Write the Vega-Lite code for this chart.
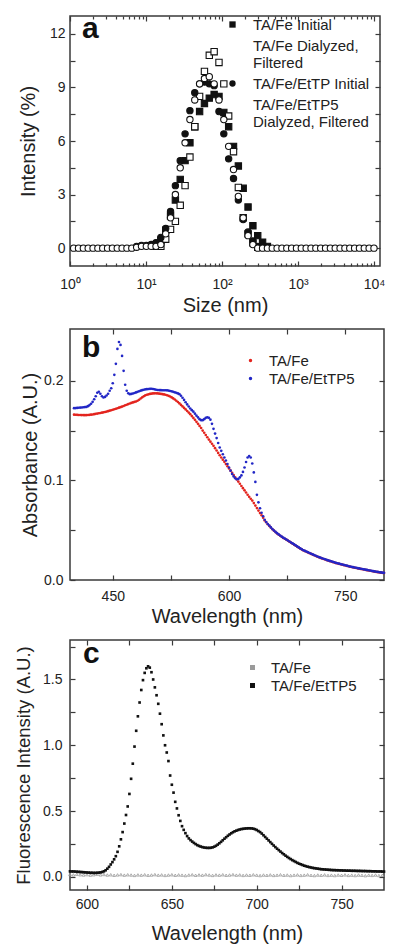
{
"$schema": "https://vega.github.io/schema/vega-lite/v6.json",
"background": "white",
"padding": {"left": 13, "top": 13, "right": 0, "bottom": 0},
"config": {
  "font": "Liberation Sans",
  "view": {"stroke": "#3a3a3a", "strokeWidth": 1.5},
  "axis": {"grid": false, "domain": false, "labelFont": "Liberation Sans", "labelFontSize": 14, "labelColor": "#222", "titleFont": "Liberation Sans", "titleFontSize": 20, "titleFontWeight": "normal", "titleColor": "#222", "tickColor": "#3a3a3a", "tickWidth": 1.2, "tickSize": -5, "labelFlush": false, "labelOverlap": false, "labelBound": false},
  "legend": {"labelFont": "Liberation Sans", "labelFontSize": 15, "labelColor": "#222", "padding": 0},
  "title": {"font": "Liberation Sans", "fontSize": 30, "fontWeight": "bold", "color": "#111", "anchor": "start", "frame": "group", "baseline": "alphabetic"}
},
"columns": 1,
"align": "none",
"spacing": 11,
"resolve": {"scale": {"color": "independent"}, "legend": {"color": "independent"}},
"concat": [
{
  "width": 310, "height": 250,
  "title": {"text": "a", "offset": -29, "dx": 12},
  "data": {"values": [
    {"s":"TA/Fe Initial","d":13.54,"v":0.1},{"s":"TA/Fe Initial","d":15.69,"v":0.45},{"s":"TA/Fe Initial","d":18.17,"v":1.0},{"s":"TA/Fe Initial","d":21.04,"v":1.8},{"s":"TA/Fe Initial","d":24.36,"v":2.7},{"s":"TA/Fe Initial","d":28.21,"v":3.85},{"s":"TA/Fe Initial","d":32.67,"v":4.9},{"s":"TA/Fe Initial","d":37.84,"v":5.9},{"s":"TA/Fe Initial","d":43.82,"v":6.8},{"s":"TA/Fe Initial","d":50.75,"v":7.65},{"s":"TA/Fe Initial","d":58.77,"v":8.1},{"s":"TA/Fe Initial","d":68.06,"v":8.4},{"s":"TA/Fe Initial","d":78.82,"v":8.6},{"s":"TA/Fe Initial","d":91.28,"v":8.5},{"s":"TA/Fe Initial","d":105.7,"v":7.6},{"s":"TA/Fe Initial","d":122.4,"v":6.8},{"s":"TA/Fe Initial","d":141.8,"v":5.7},{"s":"TA/Fe Initial","d":164.2,"v":4.6},{"s":"TA/Fe Initial","d":190.1,"v":3.35},{"s":"TA/Fe Initial","d":220.2,"v":2.3},{"s":"TA/Fe Initial","d":255.0,"v":1.25},{"s":"TA/Fe Initial","d":295.3,"v":0.7},{"s":"TA/Fe Initial","d":342.0,"v":0.33},{"s":"TA/Fe Initial","d":396.1,"v":0.1},
    {"s":"TA/Fe Dialyzed, Filtered","d":15.69,"v":0.1},{"s":"TA/Fe Dialyzed, Filtered","d":18.17,"v":0.5},{"s":"TA/Fe Dialyzed, Filtered","d":21.04,"v":1.05},{"s":"TA/Fe Dialyzed, Filtered","d":24.36,"v":1.5},{"s":"TA/Fe Dialyzed, Filtered","d":28.21,"v":2.4},{"s":"TA/Fe Dialyzed, Filtered","d":32.67,"v":3.5},{"s":"TA/Fe Dialyzed, Filtered","d":37.84,"v":5.1},{"s":"TA/Fe Dialyzed, Filtered","d":43.82,"v":6.8},{"s":"TA/Fe Dialyzed, Filtered","d":50.75,"v":8.5},{"s":"TA/Fe Dialyzed, Filtered","d":58.77,"v":9.9},{"s":"TA/Fe Dialyzed, Filtered","d":68.06,"v":10.8},{"s":"TA/Fe Dialyzed, Filtered","d":78.82,"v":11.0},{"s":"TA/Fe Dialyzed, Filtered","d":91.28,"v":10.4},{"s":"TA/Fe Dialyzed, Filtered","d":105.7,"v":9.2},{"s":"TA/Fe Dialyzed, Filtered","d":122.4,"v":7.4},{"s":"TA/Fe Dialyzed, Filtered","d":141.8,"v":5.4},{"s":"TA/Fe Dialyzed, Filtered","d":164.2,"v":3.4},{"s":"TA/Fe Dialyzed, Filtered","d":190.1,"v":1.7},{"s":"TA/Fe Dialyzed, Filtered","d":220.2,"v":0.8},{"s":"TA/Fe Dialyzed, Filtered","d":255.0,"v":0.3},{"s":"TA/Fe Dialyzed, Filtered","d":295.3,"v":0.05},
    {"s":"TA/Fe/EtTP Initial","d":7.531,"v":0.1},{"s":"TA/Fe/EtTP Initial","d":8.721,"v":0.15},{"s":"TA/Fe/EtTP Initial","d":10.10,"v":0.15},{"s":"TA/Fe/EtTP Initial","d":11.70,"v":0.2},{"s":"TA/Fe/EtTP Initial","d":13.54,"v":0.3},{"s":"TA/Fe/EtTP Initial","d":15.69,"v":0.6},{"s":"TA/Fe/EtTP Initial","d":18.17,"v":1.1},{"s":"TA/Fe/EtTP Initial","d":21.04,"v":2.05},{"s":"TA/Fe/EtTP Initial","d":24.36,"v":3.5},{"s":"TA/Fe/EtTP Initial","d":28.21,"v":4.9},{"s":"TA/Fe/EtTP Initial","d":32.67,"v":6.4},{"s":"TA/Fe/EtTP Initial","d":37.84,"v":7.7},{"s":"TA/Fe/EtTP Initial","d":43.82,"v":8.7},{"s":"TA/Fe/EtTP Initial","d":50.75,"v":9.2},{"s":"TA/Fe/EtTP Initial","d":58.77,"v":9.3},{"s":"TA/Fe/EtTP Initial","d":68.06,"v":9.2},{"s":"TA/Fe/EtTP Initial","d":78.82,"v":9.1},{"s":"TA/Fe/EtTP Initial","d":91.28,"v":7.65},{"s":"TA/Fe/EtTP Initial","d":105.7,"v":6.4},{"s":"TA/Fe/EtTP Initial","d":122.4,"v":5.0},{"s":"TA/Fe/EtTP Initial","d":141.8,"v":3.9},{"s":"TA/Fe/EtTP Initial","d":164.2,"v":2.7},{"s":"TA/Fe/EtTP Initial","d":190.1,"v":1.6},{"s":"TA/Fe/EtTP Initial","d":220.2,"v":0.9},{"s":"TA/Fe/EtTP Initial","d":255.0,"v":0.4},{"s":"TA/Fe/EtTP Initial","d":295.3,"v":0.1},
    {"s":"TA/Fe/EtTP5 Dialyzed, Filtered","d":1.117,"v":0},{"s":"TA/Fe/EtTP5 Dialyzed, Filtered","d":1.294,"v":0},{"s":"TA/Fe/EtTP5 Dialyzed, Filtered","d":1.499,"v":0},{"s":"TA/Fe/EtTP5 Dialyzed, Filtered","d":1.736,"v":0},{"s":"TA/Fe/EtTP5 Dialyzed, Filtered","d":2.010,"v":0},{"s":"TA/Fe/EtTP5 Dialyzed, Filtered","d":2.328,"v":0},{"s":"TA/Fe/EtTP5 Dialyzed, Filtered","d":2.696,"v":0},{"s":"TA/Fe/EtTP5 Dialyzed, Filtered","d":3.122,"v":0},{"s":"TA/Fe/EtTP5 Dialyzed, Filtered","d":3.615,"v":0},{"s":"TA/Fe/EtTP5 Dialyzed, Filtered","d":4.187,"v":0},{"s":"TA/Fe/EtTP5 Dialyzed, Filtered","d":4.849,"v":0},{"s":"TA/Fe/EtTP5 Dialyzed, Filtered","d":5.615,"v":0},{"s":"TA/Fe/EtTP5 Dialyzed, Filtered","d":6.503,"v":0},{"s":"TA/Fe/EtTP5 Dialyzed, Filtered","d":7.531,"v":0.05},{"s":"TA/Fe/EtTP5 Dialyzed, Filtered","d":8.721,"v":0.1},{"s":"TA/Fe/EtTP5 Dialyzed, Filtered","d":10.10,"v":0.1},{"s":"TA/Fe/EtTP5 Dialyzed, Filtered","d":11.70,"v":0.1},{"s":"TA/Fe/EtTP5 Dialyzed, Filtered","d":13.54,"v":0.1},{"s":"TA/Fe/EtTP5 Dialyzed, Filtered","d":15.69,"v":0.2},{"s":"TA/Fe/EtTP5 Dialyzed, Filtered","d":18.17,"v":0.8},{"s":"TA/Fe/EtTP5 Dialyzed, Filtered","d":21.04,"v":1.7},{"s":"TA/Fe/EtTP5 Dialyzed, Filtered","d":24.36,"v":3.0},{"s":"TA/Fe/EtTP5 Dialyzed, Filtered","d":28.21,"v":4.5},{"s":"TA/Fe/EtTP5 Dialyzed, Filtered","d":32.67,"v":5.9},{"s":"TA/Fe/EtTP5 Dialyzed, Filtered","d":37.84,"v":7.2},{"s":"TA/Fe/EtTP5 Dialyzed, Filtered","d":43.82,"v":8.3},{"s":"TA/Fe/EtTP5 Dialyzed, Filtered","d":50.75,"v":9.2},{"s":"TA/Fe/EtTP5 Dialyzed, Filtered","d":58.77,"v":9.5},{"s":"TA/Fe/EtTP5 Dialyzed, Filtered","d":68.06,"v":9.6},{"s":"TA/Fe/EtTP5 Dialyzed, Filtered","d":78.82,"v":9.2},{"s":"TA/Fe/EtTP5 Dialyzed, Filtered","d":91.28,"v":8.3},{"s":"TA/Fe/EtTP5 Dialyzed, Filtered","d":105.7,"v":7.2},{"s":"TA/Fe/EtTP5 Dialyzed, Filtered","d":122.4,"v":5.7},{"s":"TA/Fe/EtTP5 Dialyzed, Filtered","d":141.8,"v":4.4},{"s":"TA/Fe/EtTP5 Dialyzed, Filtered","d":164.2,"v":2.9},{"s":"TA/Fe/EtTP5 Dialyzed, Filtered","d":190.1,"v":1.7},{"s":"TA/Fe/EtTP5 Dialyzed, Filtered","d":220.2,"v":0.7},{"s":"TA/Fe/EtTP5 Dialyzed, Filtered","d":255.0,"v":0.2},{"s":"TA/Fe/EtTP5 Dialyzed, Filtered","d":295.3,"v":0},{"s":"TA/Fe/EtTP5 Dialyzed, Filtered","d":342.0,"v":0},{"s":"TA/Fe/EtTP5 Dialyzed, Filtered","d":396.1,"v":0},{"s":"TA/Fe/EtTP5 Dialyzed, Filtered","d":458.7,"v":0},{"s":"TA/Fe/EtTP5 Dialyzed, Filtered","d":531.2,"v":0},{"s":"TA/Fe/EtTP5 Dialyzed, Filtered","d":615.1,"v":0},{"s":"TA/Fe/EtTP5 Dialyzed, Filtered","d":712.4,"v":0},{"s":"TA/Fe/EtTP5 Dialyzed, Filtered","d":825.0,"v":0},{"s":"TA/Fe/EtTP5 Dialyzed, Filtered","d":955.4,"v":0},{"s":"TA/Fe/EtTP5 Dialyzed, Filtered","d":1106,"v":0},{"s":"TA/Fe/EtTP5 Dialyzed, Filtered","d":1281,"v":0},{"s":"TA/Fe/EtTP5 Dialyzed, Filtered","d":1484,"v":0},{"s":"TA/Fe/EtTP5 Dialyzed, Filtered","d":1718,"v":0},{"s":"TA/Fe/EtTP5 Dialyzed, Filtered","d":1990,"v":0},{"s":"TA/Fe/EtTP5 Dialyzed, Filtered","d":2305,"v":0},{"s":"TA/Fe/EtTP5 Dialyzed, Filtered","d":2669,"v":0},{"s":"TA/Fe/EtTP5 Dialyzed, Filtered","d":3091,"v":0},{"s":"TA/Fe/EtTP5 Dialyzed, Filtered","d":3580,"v":0},{"s":"TA/Fe/EtTP5 Dialyzed, Filtered","d":4145,"v":0},{"s":"TA/Fe/EtTP5 Dialyzed, Filtered","d":4801,"v":0},{"s":"TA/Fe/EtTP5 Dialyzed, Filtered","d":5560,"v":0},{"s":"TA/Fe/EtTP5 Dialyzed, Filtered","d":6439,"v":0},{"s":"TA/Fe/EtTP5 Dialyzed, Filtered","d":7456,"v":0},{"s":"TA/Fe/EtTP5 Dialyzed, Filtered","d":8635,"v":0},{"s":"TA/Fe/EtTP5 Dialyzed, Filtered","d":10000,"v":0}
  ]},
  "layer": [
    {
      "mark": {"type": "point", "filled": true, "stroke": "#111", "strokeWidth": 1.1, "size": 40, "opacity": 1},
      "encoding": {
        "x": {"field": "d", "type": "quantitative", "scale": {"type": "log", "domain": [1, 12000]},
          "axis": {"orient": "bottom", "title": "Size (nm)", "values": [1,2,3,4,5,6,7,8,9,10,20,30,40,50,60,70,80,90,100,200,300,400,500,600,700,800,900,1000,2000,3000,4000,5000,6000,7000,8000,9000,10000],
            "labelExpr": "datum.value == 1 ? '10⁰' : datum.value == 10 ? '10¹' : datum.value == 100 ? '10²' : datum.value == 1000 ? '10³' : datum.value == 10000 ? '10⁴' : ''",
            "tickSize": {"condition": {"test": "datum.value == 1 || datum.value == 10 || datum.value == 100 || datum.value == 1000 || datum.value == 10000", "value": -5}, "value": -3},
            "labelPadding": 16, "titlePadding": 2}},
        "y": {"field": "v", "type": "quantitative", "scale": {"domain": [-1, 13], "nice": false, "zero": false},
          "axis": {"orient": "left", "title": "Intensity (%)", "values": [0,1.5,3,4.5,6,7.5,9,10.5,12], "labelExpr": "datum.value % 3 == 0 ? datum.label : ''", "labelPadding": 10, "titlePadding": 11.4}},
        "fill": {"field": "s", "type": "nominal",
          "scale": {"domain": ["TA/Fe Initial","TA/Fe Dialyzed, Filtered","TA/Fe/EtTP Initial","TA/Fe/EtTP5 Dialyzed, Filtered"], "range": ["#111","#fff","#111","#fff"]},
          "legend": {"title": null, "orient": "none", "legendX": 155, "legendY": 1, "symbolSize": 40, "symbolStrokeColor": "#111", "symbolStrokeWidth": 1.1, "labelOffset": 13, "rowPadding": 5,
            "labelExpr": "datum.label == 'TA/Fe Dialyzed, Filtered' ? ['TA/Fe Dialyzed,', 'Filtered'] : datum.label == 'TA/Fe/EtTP5 Dialyzed, Filtered' ? ['TA/Fe/EtTP5', 'Dialyzed, Filtered'] : datum.label"}},
        "shape": {"field": "s", "type": "nominal",
          "scale": {"domain": ["TA/Fe Initial","TA/Fe Dialyzed, Filtered","TA/Fe/EtTP Initial","TA/Fe/EtTP5 Dialyzed, Filtered"], "range": ["square","square","circle","circle"]},
          "legend": {"title": null, "orient": "none", "legendX": 155, "legendY": 1, "symbolSize": 40, "symbolStrokeColor": "#111", "symbolStrokeWidth": 1.1, "labelOffset": 13, "rowPadding": 5,
            "labelExpr": "datum.label == 'TA/Fe Dialyzed, Filtered' ? ['TA/Fe Dialyzed,', 'Filtered'] : datum.label == 'TA/Fe/EtTP5 Dialyzed, Filtered' ? ['TA/Fe/EtTP5', 'Dialyzed, Filtered'] : datum.label"}}
      }
    },
    {
      "mark": {"type": "point", "opacity": 0},
      "encoding": {
        "x": {"field": "d", "type": "quantitative", "scale": {"type": "log", "domain": [1, 12000]},
          "axis": {"orient": "top", "title": null, "labels": false, "values": [1,2,3,4,5,6,7,8,9,10,20,30,40,50,60,70,80,90,100,200,300,400,500,600,700,800,900,1000,2000,3000,4000,5000,6000,7000,8000,9000,10000],
            "tickSize": {"condition": {"test": "datum.value == 1 || datum.value == 10 || datum.value == 100 || datum.value == 1000 || datum.value == 10000", "value": -5}, "value": -3}}},
        "y": {"field": "v", "type": "quantitative", "scale": {"domain": [-1, 13], "nice": false, "zero": false},
          "axis": {"orient": "right", "title": null, "labels": false, "values": [0,1.5,3,4.5,6,7.5,9,10.5,12]}}
      }
    }
  ],
  "resolve": {"axis": {"x": "independent", "y": "independent"}}
},
{
  "width": 314, "height": 251,
  "title": {"text": "b", "offset": -35, "dx": 12},
  "layer": [
    {
      "data": {"values": [
        {"w":400,"a":0.166},{"w":402,"a":0.1659},{"w":404,"a":0.1658},{"w":406,"a":0.1657},{"w":408,"a":0.1657},{"w":410,"a":0.1656},{"w":412,"a":0.1656},{"w":414,"a":0.1655},{"w":416,"a":0.1656},{"w":418,"a":0.1657},{"w":420,"a":0.1658},{"w":422,"a":0.166},{"w":424,"a":0.1662},{"w":426,"a":0.1665},{"w":428,"a":0.1668},{"w":430,"a":0.1671},{"w":432,"a":0.1674},{"w":434,"a":0.1677},{"w":436,"a":0.168},{"w":438,"a":0.1683},{"w":440,"a":0.1687},{"w":442,"a":0.1691},{"w":444,"a":0.1695},{"w":446,"a":0.17},{"w":448,"a":0.1704},{"w":450,"a":0.1709},{"w":452,"a":0.1714},{"w":454,"a":0.1719},{"w":456,"a":0.1724},{"w":458,"a":0.173},{"w":460,"a":0.1735},{"w":462,"a":0.1741},{"w":464,"a":0.1747},{"w":466,"a":0.1754},{"w":468,"a":0.176},{"w":470,"a":0.1766},{"w":472,"a":0.1772},{"w":474,"a":0.1778},{"w":476,"a":0.1783},{"w":478,"a":0.1788},{"w":480,"a":0.1792},{"w":482,"a":0.18},{"w":484,"a":0.181},{"w":486,"a":0.1822},{"w":488,"a":0.1834},{"w":490,"a":0.1845},{"w":492,"a":0.1854},{"w":494,"a":0.186},{"w":496,"a":0.1864},{"w":498,"a":0.1868},{"w":500,"a":0.1871},{"w":502,"a":0.1873},{"w":504,"a":0.1874},{"w":506,"a":0.1874},{"w":508,"a":0.1873},{"w":510,"a":0.1871},{"w":512,"a":0.1869},{"w":514,"a":0.1866},{"w":516,"a":0.1863},{"w":518,"a":0.186},{"w":520,"a":0.1855},{"w":522,"a":0.1849},{"w":524,"a":0.1842},{"w":526,"a":0.1833},{"w":528,"a":0.1823},{"w":530,"a":0.1812},{"w":532,"a":0.18},{"w":534,"a":0.1787},{"w":536,"a":0.1773},{"w":538,"a":0.1758},{"w":540,"a":0.1743},{"w":542,"a":0.1728},{"w":544,"a":0.1713},{"w":546,"a":0.1697},{"w":548,"a":0.1681},{"w":550,"a":0.1665},{"w":552,"a":0.1646},{"w":554,"a":0.1627},{"w":556,"a":0.1608},{"w":558,"a":0.1588},{"w":560,"a":0.1568},{"w":562,"a":0.1547},{"w":564,"a":0.1526},{"w":566,"a":0.15},{"w":568,"a":0.1478},{"w":570,"a":0.1456},{"w":572,"a":0.1433},{"w":574,"a":0.141},{"w":576,"a":0.1389},{"w":578,"a":0.1368},{"w":580,"a":0.1347},{"w":582,"a":0.1324},{"w":584,"a":0.13},{"w":586,"a":0.1276},{"w":588,"a":0.1252},{"w":590,"a":0.123},{"w":592,"a":0.1208},{"w":594,"a":0.1186},{"w":596,"a":0.1164},{"w":598,"a":0.1142},{"w":600,"a":0.112},{"w":602,"a":0.1098},{"w":604,"a":0.1076},{"w":606,"a":0.1054},{"w":608,"a":0.1032},{"w":610,"a":0.101},{"w":612,"a":0.0988},{"w":614,"a":0.0966},{"w":616,"a":0.0944},{"w":618,"a":0.0922},{"w":620,"a":0.09},{"w":622,"a":0.0878},{"w":624,"a":0.0856},{"w":626,"a":0.0835},{"w":628,"a":0.0816},{"w":630,"a":0.0797},{"w":632,"a":0.0772},{"w":634,"a":0.0747},{"w":636,"a":0.0722},{"w":638,"a":0.0697},{"w":640,"a":0.0672},{"w":642,"a":0.065},{"w":644,"a":0.0626},{"w":646,"a":0.0598},{"w":648,"a":0.058},{"w":650,"a":0.056},{"w":652,"a":0.0543},{"w":654,"a":0.0526},{"w":656,"a":0.051},{"w":658,"a":0.0495},{"w":660,"a":0.0481},{"w":662,"a":0.0468},{"w":664,"a":0.0456},{"w":666,"a":0.0444},{"w":668,"a":0.0433},{"w":670,"a":0.0422},{"w":672,"a":0.0414},{"w":674,"a":0.0405},{"w":676,"a":0.0395},{"w":678,"a":0.0385},{"w":680,"a":0.0375},{"w":682,"a":0.0365},{"w":684,"a":0.0355},{"w":686,"a":0.0345},{"w":688,"a":0.0335},{"w":690,"a":0.0325},{"w":692,"a":0.0315},{"w":694,"a":0.0305},{"w":696,"a":0.0297},{"w":698,"a":0.029},{"w":700,"a":0.0283},{"w":702,"a":0.0276},{"w":704,"a":0.0269},{"w":706,"a":0.0262},{"w":708,"a":0.0255},{"w":710,"a":0.0248},{"w":712,"a":0.0241},{"w":714,"a":0.0234},{"w":716,"a":0.0228},{"w":718,"a":0.0222},{"w":720,"a":0.0216},{"w":722,"a":0.0211},{"w":724,"a":0.0206},{"w":726,"a":0.02},{"w":728,"a":0.0195},{"w":730,"a":0.019},{"w":732,"a":0.0185},{"w":734,"a":0.018},{"w":736,"a":0.0175},{"w":738,"a":0.017},{"w":740,"a":0.0166},{"w":742,"a":0.0162},{"w":744,"a":0.0158},{"w":746,"a":0.0154},{"w":748,"a":0.015},{"w":750,"a":0.0146},{"w":752,"a":0.0142},{"w":754,"a":0.0138},{"w":756,"a":0.0134},{"w":758,"a":0.013},{"w":760,"a":0.0127},{"w":762,"a":0.0124},{"w":764,"a":0.0121},{"w":766,"a":0.0117},{"w":768,"a":0.0114},{"w":770,"a":0.0111},{"w":772,"a":0.0108},{"w":774,"a":0.0105},{"w":776,"a":0.0102},{"w":778,"a":0.0099},{"w":780,"a":0.0096},{"w":782,"a":0.0093},{"w":784,"a":0.009},{"w":786,"a":0.0087},{"w":788,"a":0.0084},{"w":790,"a":0.0081},{"w":792,"a":0.0079},{"w":794,"a":0.0076},{"w":796,"a":0.0074},{"w":798,"a":0.0072},{"w":800,"a":0.007}
      ]},
      "mark": {"type": "circle", "size": 7, "opacity": 1},
      "encoding": {
        "x": {"field": "w", "type": "quantitative", "scale": {"domain": [394.8, 800], "nice": false},
          "axis": {"orient": "bottom", "title": "Wavelength (nm)", "values": [450,525,600,675,750], "labelExpr": "datum.value % 150 == 0 ? datum.label : ''", "labelPadding": 14, "titlePadding": 3}},
        "y": {"field": "a", "type": "quantitative", "scale": {"domain": [0, 0.252], "nice": false},
          "axis": {"orient": "left", "title": "Absorbance (A.U.)", "values": [0,0.05,0.1,0.15,0.2], "labelExpr": "round(datum.value*100) % 10 == 0 ? format(datum.value, '.1f') : ''", "labelPadding": 12, "titlePadding": 3.5}},
        "color": {"datum": "TA/Fe", "type": "nominal", "scale": {"domain": ["TA/Fe","TA/Fe/EtTP5"], "range": ["#e3241e","#2227c6"]},
          "legend": {"title": null, "orient": "none", "legendX": 173, "legendY": 24, "symbolType": "circle", "symbolSize": 12, "labelOffset": 11, "rowPadding": 2}}
      }
    },
    {
      "data": {"values": [
        {"w":400,"a":0.1725},{"w":402,"a":0.1726},{"w":404,"a":0.1728},{"w":406,"a":0.1729},{"w":408,"a":0.1731},{"w":410,"a":0.1732},{"w":412,"a":0.1734},{"w":414,"a":0.1736},{"w":416,"a":0.1738},{"w":418,"a":0.1745},{"w":420,"a":0.1756},{"w":422,"a":0.177},{"w":424,"a":0.1789},{"w":426,"a":0.1815},{"w":428,"a":0.1845},{"w":430,"a":0.188},{"w":432,"a":0.189},{"w":434,"a":0.187},{"w":436,"a":0.1845},{"w":438,"a":0.1832},{"w":440,"a":0.1838},{"w":442,"a":0.1852},{"w":444,"a":0.187},{"w":446,"a":0.19},{"w":448,"a":0.1925},{"w":450,"a":0.1975},{"w":452,"a":0.206},{"w":454,"a":0.217},{"w":456,"a":0.232},{"w":458,"a":0.239},{"w":460,"a":0.236},{"w":462,"a":0.225},{"w":464,"a":0.21},{"w":466,"a":0.196},{"w":468,"a":0.19},{"w":470,"a":0.1875},{"w":472,"a":0.1866},{"w":474,"a":0.1868},{"w":476,"a":0.1872},{"w":478,"a":0.1877},{"w":480,"a":0.1883},{"w":482,"a":0.1889},{"w":484,"a":0.1895},{"w":486,"a":0.1901},{"w":488,"a":0.1906},{"w":490,"a":0.191},{"w":492,"a":0.1914},{"w":494,"a":0.1916},{"w":496,"a":0.1918},{"w":498,"a":0.1919},{"w":500,"a":0.192},{"w":502,"a":0.1918},{"w":504,"a":0.1914},{"w":506,"a":0.191},{"w":508,"a":0.1908},{"w":510,"a":0.1907},{"w":512,"a":0.1906},{"w":514,"a":0.1905},{"w":516,"a":0.1905},{"w":518,"a":0.1905},{"w":520,"a":0.1904},{"w":522,"a":0.1902},{"w":524,"a":0.1898},{"w":526,"a":0.1894},{"w":528,"a":0.1889},{"w":530,"a":0.1884},{"w":532,"a":0.1879},{"w":534,"a":0.1873},{"w":536,"a":0.1866},{"w":538,"a":0.185},{"w":540,"a":0.183},{"w":542,"a":0.1808},{"w":544,"a":0.1785},{"w":546,"a":0.1763},{"w":548,"a":0.1742},{"w":550,"a":0.1722},{"w":552,"a":0.1705},{"w":554,"a":0.169},{"w":556,"a":0.167},{"w":558,"a":0.165},{"w":560,"a":0.1632},{"w":562,"a":0.1615},{"w":564,"a":0.1605},{"w":566,"a":0.1605},{"w":568,"a":0.1615},{"w":570,"a":0.1628},{"w":572,"a":0.1633},{"w":574,"a":0.1628},{"w":576,"a":0.161},{"w":578,"a":0.1568},{"w":580,"a":0.1518},{"w":582,"a":0.147},{"w":584,"a":0.1425},{"w":586,"a":0.1375},{"w":588,"a":0.133},{"w":590,"a":0.1297},{"w":592,"a":0.1262},{"w":594,"a":0.123},{"w":596,"a":0.12},{"w":598,"a":0.1165},{"w":600,"a":0.113},{"w":602,"a":0.1098},{"w":604,"a":0.1065},{"w":606,"a":0.104},{"w":608,"a":0.1022},{"w":610,"a":0.1012},{"w":612,"a":0.1015},{"w":614,"a":0.103},{"w":616,"a":0.105},{"w":618,"a":0.1085},{"w":620,"a":0.113},{"w":622,"a":0.1185},{"w":624,"a":0.123},{"w":626,"a":0.1245},{"w":628,"a":0.123},{"w":630,"a":0.117},{"w":632,"a":0.108},{"w":634,"a":0.0985},{"w":636,"a":0.0855},{"w":638,"a":0.078},{"w":640,"a":0.072},{"w":642,"a":0.0675},{"w":644,"a":0.064},{"w":646,"a":0.0605},{"w":648,"a":0.0582},{"w":650,"a":0.0562},{"w":652,"a":0.0546},{"w":654,"a":0.0528},{"w":656,"a":0.0511},{"w":658,"a":0.0497},{"w":660,"a":0.0483},{"w":662,"a":0.047},{"w":664,"a":0.0458},{"w":666,"a":0.0447},{"w":668,"a":0.0435},{"w":670,"a":0.0425},{"w":672,"a":0.0416},{"w":674,"a":0.0406},{"w":676,"a":0.0397},{"w":678,"a":0.0387},{"w":680,"a":0.0377},{"w":682,"a":0.0367},{"w":684,"a":0.0357},{"w":686,"a":0.0347},{"w":688,"a":0.0337},{"w":690,"a":0.0327},{"w":692,"a":0.0317},{"w":694,"a":0.0308},{"w":696,"a":0.0299},{"w":698,"a":0.0292},{"w":700,"a":0.0285},{"w":702,"a":0.0278},{"w":704,"a":0.0271},{"w":706,"a":0.0264},{"w":708,"a":0.0257},{"w":710,"a":0.025},{"w":712,"a":0.0243},{"w":714,"a":0.0236},{"w":716,"a":0.023},{"w":718,"a":0.0224},{"w":720,"a":0.0218},{"w":722,"a":0.0213},{"w":724,"a":0.0208},{"w":726,"a":0.0202},{"w":728,"a":0.0197},{"w":730,"a":0.0192},{"w":732,"a":0.0187},{"w":734,"a":0.0182},{"w":736,"a":0.0177},{"w":738,"a":0.0172},{"w":740,"a":0.0168},{"w":742,"a":0.0164},{"w":744,"a":0.016},{"w":746,"a":0.0156},{"w":748,"a":0.0152},{"w":750,"a":0.0148},{"w":752,"a":0.0144},{"w":754,"a":0.014},{"w":756,"a":0.0136},{"w":758,"a":0.0132},{"w":760,"a":0.0129},{"w":762,"a":0.0126},{"w":764,"a":0.0123},{"w":766,"a":0.0119},{"w":768,"a":0.0116},{"w":770,"a":0.0113},{"w":772,"a":0.011},{"w":774,"a":0.0107},{"w":776,"a":0.0104},{"w":778,"a":0.0101},{"w":780,"a":0.0098},{"w":782,"a":0.0095},{"w":784,"a":0.0092},{"w":786,"a":0.0089},{"w":788,"a":0.0086},{"w":790,"a":0.0083},{"w":792,"a":0.0081},{"w":794,"a":0.0078},{"w":796,"a":0.0076},{"w":798,"a":0.0074},{"w":800,"a":0.0072}
      ]},
      "mark": {"type": "circle", "size": 7, "opacity": 1},
      "encoding": {
        "x": {"field": "w", "type": "quantitative", "axis": null},
        "y": {"field": "a", "type": "quantitative", "axis": null},
        "color": {"datum": "TA/Fe/EtTP5", "type": "nominal"}
      }
    },
    {
      "data": {"values": [{"w":400,"a":0.1},{"w":800,"a":0.1}]},
      "mark": {"type": "point", "opacity": 0},
      "encoding": {
        "x": {"field": "w", "type": "quantitative", "axis": {"orient": "top", "title": null, "labels": false, "values": [450,525,600,675,750]}},
        "y": {"field": "a", "type": "quantitative", "axis": {"orient": "right", "title": null, "labels": false, "values": [0,0.05,0.1,0.15,0.2]}}
      }
    }
  ],
  "resolve": {"axis": {"x": "independent", "y": "independent"}}
},
{
  "width": 314, "height": 250,
  "title": {"text": "c", "offset": -30, "dx": 13},
  "layer": [
    {
      "data": {"values": [
        {"w":590,"f":0.018},{"w":592,"f":0.015},{"w":594,"f":0.02},{"w":596,"f":0.016},{"w":598,"f":0.014},{"w":600,"f":0.017},{"w":602,"f":0.013},{"w":604,"f":0.016},{"w":606,"f":0.019},{"w":608,"f":0.015},{"w":610,"f":0.018},{"w":612,"f":0.014},{"w":614,"f":0.016},{"w":616,"f":0.012},{"w":618,"f":0.015},{"w":620,"f":0.017},{"w":622,"f":0.013},{"w":624,"f":0.016},{"w":626,"f":0.014},{"w":628,"f":0.011},{"w":630,"f":0.015},{"w":632,"f":0.013},{"w":634,"f":0.016},{"w":636,"f":0.012},{"w":638,"f":0.014},{"w":640,"f":0.017},{"w":642,"f":0.013},{"w":644,"f":0.015},{"w":646,"f":0.011},{"w":648,"f":0.014},{"w":650,"f":0.016},{"w":652,"f":0.012},{"w":654,"f":0.015},{"w":656,"f":0.013},{"w":658,"f":0.01},{"w":660,"f":0.014},{"w":662,"f":0.016},{"w":664,"f":0.012},{"w":666,"f":0.015},{"w":668,"f":0.013},{"w":670,"f":0.017},{"w":672,"f":0.014},{"w":674,"f":0.011},{"w":676,"f":0.015},{"w":678,"f":0.013},{"w":680,"f":0.016},{"w":682,"f":0.012},{"w":684,"f":0.014},{"w":686,"f":0.017},{"w":688,"f":0.013},{"w":690,"f":0.015},{"w":692,"f":0.011},{"w":694,"f":0.014},{"w":696,"f":0.012},{"w":698,"f":0.016},{"w":700,"f":0.013},{"w":702,"f":0.01},{"w":704,"f":0.014},{"w":706,"f":0.012},{"w":708,"f":0.015},{"w":710,"f":0.011},{"w":712,"f":0.013},{"w":714,"f":0.016},{"w":716,"f":0.012},{"w":718,"f":0.014},{"w":720,"f":0.01},{"w":722,"f":0.013},{"w":724,"f":0.015},{"w":726,"f":0.011},{"w":728,"f":0.013},{"w":730,"f":0.016},{"w":732,"f":0.012},{"w":734,"f":0.01},{"w":736,"f":0.014},{"w":738,"f":0.012},{"w":740,"f":0.015},{"w":742,"f":0.011},{"w":744,"f":0.013},{"w":746,"f":0.01},{"w":748,"f":0.014},{"w":750,"f":0.012},{"w":752,"f":0.015},{"w":754,"f":0.011},{"w":756,"f":0.013},{"w":758,"f":0.01},{"w":760,"f":0.014},{"w":762,"f":0.012},{"w":764,"f":0.009},{"w":766,"f":0.013},{"w":768,"f":0.011},{"w":770,"f":0.014},{"w":772,"f":0.01},{"w":774,"f":0.012}
      ]},
      "mark": {"type": "point", "shape": "triangle-up", "size": 8, "filled": false, "strokeWidth": 0.8, "opacity": 1},
      "encoding": {
        "x": {"field": "w", "type": "quantitative", "scale": {"domain": [590, 775], "nice": false},
          "axis": {"orient": "bottom", "title": "Wavelength (nm)", "values": [600,625,650,675,700,725,750], "labelExpr": "datum.value % 50 == 0 ? datum.label : ''", "labelPadding": 12, "titlePadding": 12}},
        "y": {"field": "f", "type": "quantitative", "scale": {"domain": [-0.1, 1.8], "nice": false, "zero": false},
          "axis": {"orient": "left", "title": "Fluorescence Intensity (A.U.)", "titleFontSize": 18.5, "values": [0,0.25,0.5,0.75,1,1.25,1.5,1.75], "labelExpr": "round(datum.value*100) % 50 == 0 ? format(datum.value, '.1f') : ''", "labelPadding": 13, "titlePadding": 9}},
        "color": {"datum": "TA/Fe", "type": "nominal", "scale": {"domain": ["TA/Fe","TA/Fe/EtTP5"], "range": ["#9a9a9a","#111111"]},
          "legend": {"title": null, "orient": "none", "legendX": 175, "legendY": 20, "symbolType": "square", "symbolSize": 12, "labelOffset": 11, "rowPadding": 2}}
      }
    },
    {
      "data": {"values": [
        {"w":590,"f":0.042},{"w":591,"f":0.041},{"w":592,"f":0.041},{"w":593,"f":0.04},{"w":594,"f":0.039},{"w":595,"f":0.038},{"w":596,"f":0.037},{"w":597,"f":0.036},{"w":598,"f":0.035},{"w":599,"f":0.034},{"w":600,"f":0.033},{"w":601,"f":0.032},{"w":602,"f":0.031},{"w":603,"f":0.031},{"w":604,"f":0.03},{"w":605,"f":0.03},{"w":606,"f":0.031},{"w":607,"f":0.032},{"w":608,"f":0.034},{"w":609,"f":0.037},{"w":610,"f":0.042},{"w":611,"f":0.05},{"w":612,"f":0.062},{"w":613,"f":0.076},{"w":614,"f":0.094},{"w":615,"f":0.112},{"w":616,"f":0.133},{"w":617,"f":0.157},{"w":618,"f":0.19},{"w":619,"f":0.232},{"w":620,"f":0.285},{"w":621,"f":0.34},{"w":622,"f":0.405},{"w":623,"f":0.47},{"w":624,"f":0.535},{"w":625,"f":0.63},{"w":626,"f":0.745},{"w":627,"f":0.86},{"w":628,"f":0.99},{"w":629,"f":1.11},{"w":630,"f":1.22},{"w":631,"f":1.325},{"w":632,"f":1.42},{"w":633,"f":1.495},{"w":634,"f":1.55},{"w":635,"f":1.585},{"w":636,"f":1.6},{"w":637,"f":1.59},{"w":638,"f":1.555},{"w":639,"f":1.5},{"w":640,"f":1.44},{"w":641,"f":1.38},{"w":642,"f":1.315},{"w":643,"f":1.24},{"w":644,"f":1.16},{"w":645,"f":1.075},{"w":646,"f":1.0},{"w":647,"f":0.945},{"w":648,"f":0.88},{"w":649,"f":0.77},{"w":650,"f":0.7},{"w":651,"f":0.64},{"w":652,"f":0.57},{"w":653,"f":0.52},{"w":654,"f":0.468},{"w":655,"f":0.425},{"w":656,"f":0.385},{"w":657,"f":0.357},{"w":658,"f":0.332},{"w":659,"f":0.31},{"w":660,"f":0.292},{"w":661,"f":0.279},{"w":662,"f":0.268},{"w":663,"f":0.258},{"w":664,"f":0.249},{"w":665,"f":0.241},{"w":666,"f":0.235},{"w":667,"f":0.23},{"w":668,"f":0.226},{"w":669,"f":0.223},{"w":670,"f":0.221},{"w":671,"f":0.22},{"w":672,"f":0.22},{"w":673,"f":0.221},{"w":674,"f":0.224},{"w":675,"f":0.229},{"w":676,"f":0.236},{"w":677,"f":0.245},{"w":678,"f":0.255},{"w":679,"f":0.266},{"w":680,"f":0.278},{"w":681,"f":0.29},{"w":682,"f":0.301},{"w":683,"f":0.312},{"w":684,"f":0.322},{"w":685,"f":0.331},{"w":686,"f":0.339},{"w":687,"f":0.346},{"w":688,"f":0.351},{"w":689,"f":0.356},{"w":690,"f":0.36},{"w":691,"f":0.363},{"w":692,"f":0.365},{"w":693,"f":0.367},{"w":694,"f":0.368},{"w":695,"f":0.369},{"w":696,"f":0.369},{"w":697,"f":0.368},{"w":698,"f":0.366},{"w":699,"f":0.362},{"w":700,"f":0.356},{"w":701,"f":0.348},{"w":702,"f":0.34},{"w":703,"f":0.329},{"w":704,"f":0.316},{"w":705,"f":0.303},{"w":706,"f":0.29},{"w":707,"f":0.277},{"w":708,"f":0.264},{"w":709,"f":0.251},{"w":710,"f":0.238},{"w":711,"f":0.226},{"w":712,"f":0.214},{"w":713,"f":0.203},{"w":714,"f":0.192},{"w":715,"f":0.181},{"w":716,"f":0.171},{"w":717,"f":0.161},{"w":718,"f":0.152},{"w":719,"f":0.143},{"w":720,"f":0.135},{"w":721,"f":0.127},{"w":722,"f":0.12},{"w":723,"f":0.113},{"w":724,"f":0.106},{"w":725,"f":0.1},{"w":726,"f":0.095},{"w":727,"f":0.09},{"w":728,"f":0.085},{"w":729,"f":0.081},{"w":730,"f":0.077},{"w":731,"f":0.074},{"w":732,"f":0.071},{"w":733,"f":0.068},{"w":734,"f":0.066},{"w":735,"f":0.064},{"w":736,"f":0.062},{"w":737,"f":0.06},{"w":738,"f":0.058},{"w":739,"f":0.057},{"w":740,"f":0.056},{"w":741,"f":0.055},{"w":742,"f":0.054},{"w":743,"f":0.053},{"w":744,"f":0.052},{"w":745,"f":0.051},{"w":746,"f":0.051},{"w":747,"f":0.05},{"w":748,"f":0.05},{"w":749,"f":0.049},{"w":750,"f":0.049},{"w":751,"f":0.048},{"w":752,"f":0.048},{"w":753,"f":0.047},{"w":754,"f":0.047},{"w":755,"f":0.047},{"w":756,"f":0.046},{"w":757,"f":0.046},{"w":758,"f":0.046},{"w":759,"f":0.045},{"w":760,"f":0.045},{"w":761,"f":0.045},{"w":762,"f":0.044},{"w":763,"f":0.044},{"w":764,"f":0.044},{"w":765,"f":0.043},{"w":766,"f":0.043},{"w":767,"f":0.043},{"w":768,"f":0.042},{"w":769,"f":0.042},{"w":770,"f":0.042},{"w":771,"f":0.041},{"w":772,"f":0.041},{"w":773,"f":0.041},{"w":774,"f":0.04},{"w":775,"f":0.04}
      ]},
      "mark": {"type": "square", "size": 7, "opacity": 1},
      "encoding": {
        "x": {"field": "w", "type": "quantitative", "axis": null},
        "y": {"field": "f", "type": "quantitative", "axis": null},
        "color": {"datum": "TA/Fe/EtTP5", "type": "nominal"}
      }
    },
    {
      "data": {"values": [{"w":600,"f":0.5},{"w":700,"f":0.5}]},
      "mark": {"type": "point", "opacity": 0},
      "encoding": {
        "x": {"field": "w", "type": "quantitative", "axis": {"orient": "top", "title": null, "labels": false, "values": [600,625,650,675,700,725,750]}},
        "y": {"field": "f", "type": "quantitative", "axis": {"orient": "right", "title": null, "labels": false, "values": [0,0.25,0.5,0.75,1,1.25,1.5,1.75]}}
      }
    }
  ],
  "resolve": {"axis": {"x": "independent", "y": "independent"}}
}
]
}
